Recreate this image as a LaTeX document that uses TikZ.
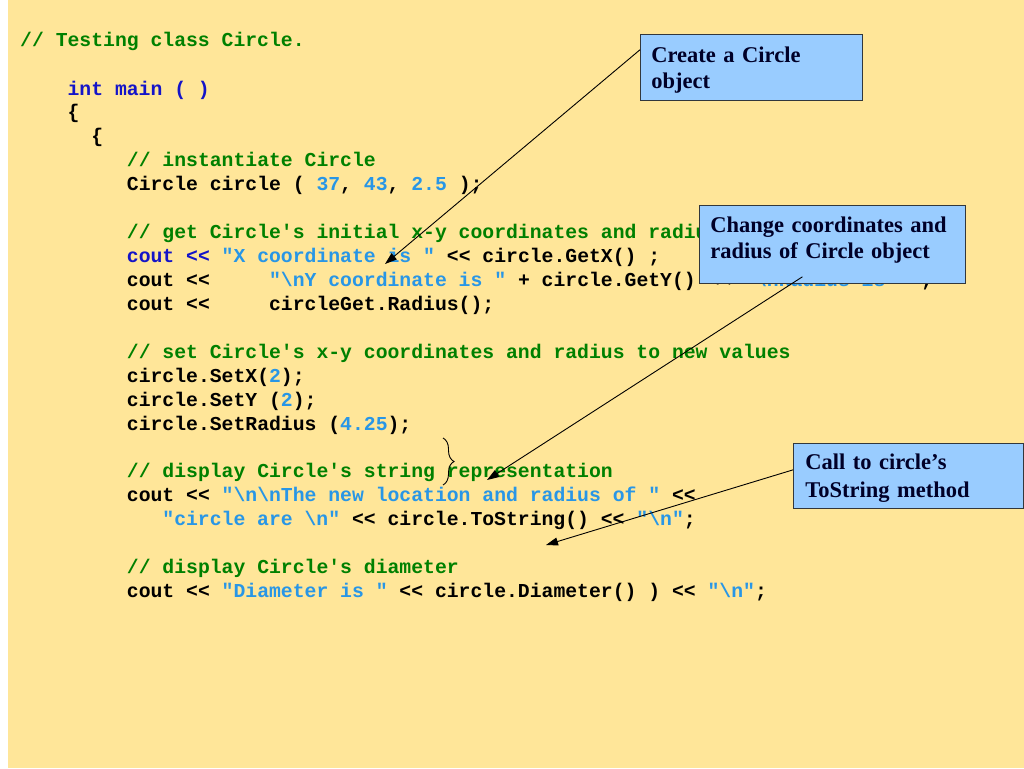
\documentclass[tikz,border=0pt]{standalone}
\usepackage{fontspec}
\usetikzlibrary{arrows.meta,decorations.pathreplacing}

\newfontfamily\codefont{Liberation Mono}
\newfontfamily\notefont{Liberation Serif}

\definecolor{slidebg}{RGB}{255,230,153}
\definecolor{notefill}{RGB}{153,204,255}
\definecolor{notedraw}{RGB}{50,55,60}
\definecolor{notetext}{RGB}{0,0,40}
\definecolor{cmtgreen}{RGB}{0,128,0}
\definecolor{kwblue}{RGB}{20,20,200}
\definecolor{litblue}{RGB}{40,150,230}

\newcommand{\cmt}[1]{\textcolor{cmtgreen}{#1}}
\newcommand{\kw}[1]{\textcolor{kwblue}{#1}}
\newcommand{\lit}[1]{\textcolor{litblue}{#1}}
\newcommand{\bsl}{\textbackslash}

\tikzstyle{codeline}=[anchor=base west,inner sep=0pt,font=\codefont\bfseries\fontsize{19.75}{24}\selectfont]
\tikzstyle{notebox}=[anchor=north west,draw=notedraw,line width=0.8pt,fill=notefill,align=left,inner xsep=11pt,text=notetext,font=\notefont\bfseries\fontsize{22.5}{26}\selectfont]

\begin{document}
\begin{tikzpicture}[x=1pt,y=-1pt,>={Triangle[length=12pt,width=8pt]}]
	\useasboundingbox (0,0) rectangle (1024,768);
	\fill[white] (0,0) rectangle (1024,768);
	\fill[slidebg] (8,0) rectangle (1024,768);
	
	% the program
	\node[codeline] (title) at (20,47) {\cmt{// Testing class Circle.}};
	\node[codeline] (mainhead) at (67.4,95) {\kw{int main ( )}};
	\node[codeline] (open1) at (67.4,118) {\{};
	\node[codeline] (open2) at (91.1,142) {\{};
	\node[codeline] (c1) at (126.7,166) {\cmt{// instantiate Circle}};
	\node[codeline] (l1) at (126.7,190) {Circle circle ( \lit{37}, \lit{43}, \lit{2.5} );};
	
	\node[codeline] (c2) at (126.7,238) {\cmt{// get Circle's initial x-y coordinates and radius}};
	\node[codeline] (l2) at (126.7,262) {\kw{cout <<} \lit{"X coordinate is "} << circle.GetX() ;};
	\node[codeline] (l3) at (126.7,286) {cout <<~~~~~\lit{"\bsl nY coordinate is "} + circle.GetY() << \lit{"\bsl nRadius is "} ;};
	\node[codeline] (l4) at (126.7,310) {cout <<~~~~~circleGet.Radius();};
	
	\node[codeline] (c3) at (126.7,358) {\cmt{// set Circle's x-y coordinates and radius to new values}};
	\node[codeline] (l5) at (126.7,382) {circle.SetX(\lit{2});};
	\node[codeline] (l6) at (126.7,406) {circle.SetY (\lit{2});};
	\node[codeline] (l7) at (126.7,430) {circle.SetRadius (\lit{4.25});};
	
	\node[codeline] (c4) at (126.7,477) {\cmt{// display Circle's string representation}};
	\node[codeline] (l8) at (126.7,501) {cout << \lit{"\bsl n\bsl nThe new location and radius of "} <<};
	\node[codeline] (l9) at (162.2,525) {\lit{"circle are \bsl n"} << circle.ToString() << \lit{"\bsl n"};};
	
	\node[codeline] (c5) at (126.7,573) {\cmt{// display Circle's diameter}};
	\node[codeline] (l10) at (126.7,597) {cout << \lit{"Diameter is "} << circle.Diameter() ) << \lit{"\bsl n"};};
	
	% notes
	\node[notebox,text width=200pt,minimum height=66pt] (create) at (640,34) {\rule{0pt}{21pt}Create a Circle\\object};
	\node[notebox,text width=244pt,minimum height=78pt] (change) at (699,205) {Change coordinates and\\radius of Circle object\rule[-12.5pt]{0pt}{1pt}};
	\node[notebox,text width=206pt,inner xsep=12pt,minimum height=65pt] (call) at (793,443) {\rule{0pt}{21pt}Call to circle’s\\[2pt]ToString method};
	
	\coordinate (xcoord) at (385,264);
	\coordinate (repr) at (487,480);
	\coordinate (tostr) at (546,545);
	
	\draw[->,line width=0.9pt] (create.171) -- (xcoord);
	\draw[->,line width=0.9pt] ([xshift=-30pt,yshift=7pt]change.south) -- (repr);
	\draw[->,line width=0.9pt] (call.177) -- (tostr);
	
	\draw[decorate,decoration={brace,amplitude=11pt},line width=0.9pt] (443,438) -- (443,485);
\end{tikzpicture}
\end{document}
